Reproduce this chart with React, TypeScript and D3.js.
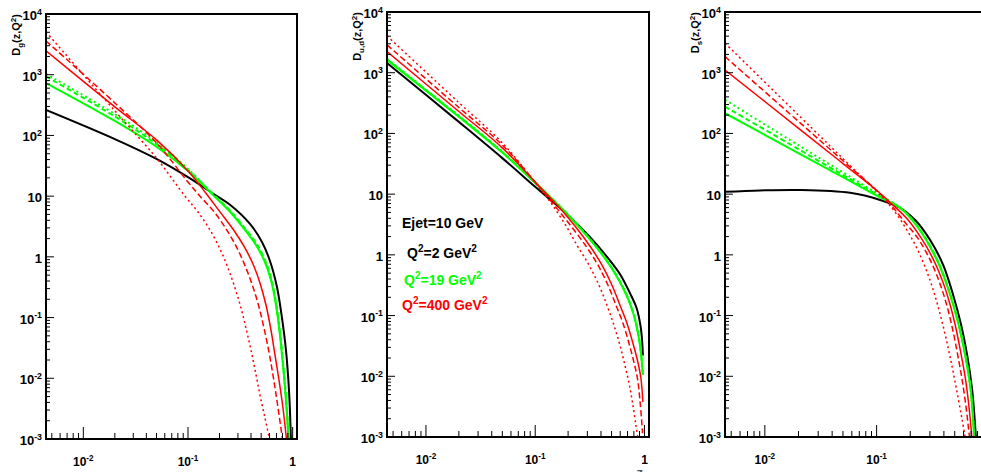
import React from "react";
import * as d3 from "d3";

type Pt = [number, number];

// gluon panel: [z, D(z,Q^2)]
const g1Black: Pt[] = [[0.0044, 263], [0.02, 87], [0.05, 41], [0.1, 20.5], [0.189, 10], [0.252, 7.2], [0.391, 3.48], [0.509, 1.76], [0.607, 0.855], [0.708, 0.319], [0.791, 0.098], [0.863, 0.029], [0.922, 0.0064], [0.963, 0.001]];
const g1Green: Pt[] = [[0.0044, 730], [0.02, 173], [0.05, 65], [0.1, 26], [0.173, 10.5], [0.252, 5.5], [0.35, 2.77], [0.446, 1.57], [0.532, 0.889], [0.62, 0.416], [0.693, 0.161], [0.756, 0.0516], [0.808, 0.0166], [0.863, 0.00439], [0.912, 0.001]];
const g1GreenDash: Pt[] = [[0.0044, 935], [0.02, 205], [0.05, 72], [0.1, 27], [0.173, 10.8], [0.252, 5.8], [0.35, 2.95], [0.446, 1.7], [0.532, 0.97], [0.62, 0.46], [0.693, 0.18], [0.756, 0.058], [0.808, 0.0186], [0.863, 0.0049], [0.915, 0.001]];
const g1GreenDot: Pt[] = [[0.0044, 1030], [0.02, 225], [0.05, 77], [0.1, 28], [0.173, 10.7], [0.252, 5.65], [0.35, 2.85], [0.446, 1.63], [0.532, 0.93], [0.62, 0.435], [0.693, 0.17], [0.756, 0.054], [0.808, 0.0175], [0.863, 0.0046], [0.913, 0.001]];
const g1Red: Pt[] = [[0.0044, 2470], [0.02, 295], [0.05, 84.3], [0.1, 26], [0.1453, 11.7], [0.2021, 5.5], [0.2811, 2.57], [0.35, 1.4], [0.4176, 0.764], [0.4872, 0.372], [0.5559, 0.161], [0.6205, 0.0624], [0.6776, 0.0242], [0.7398, 0.00938], [0.808, 0.00324], [0.8725, 0.001]];
const g1RedDash: Pt[] = [[0.0044, 3600], [0.02, 343], [0.05, 75.3], [0.1, 17.1], [0.1302, 10], [0.1811, 5.29], [0.241, 2.57], [0.3003, 1.3], [0.358, 0.657], [0.4176, 0.319], [0.4766, 0.1495], [0.532, 0.0674], [0.5937, 0.0271], [0.6555, 0.0101], [0.7157, 0.00377], [0.799, 0.001]];
const g1RedDot: Pt[] = [[0.0044, 5070], [0.02, 254], [0.05, 42.4], [0.0936, 10], [0.1246, 5.49], [0.1622, 2.77], [0.2021, 1.35], [0.241, 0.657], [0.2811, 0.307], [0.3208, 0.144], [0.358, 0.0674], [0.3996, 0.0292], [0.4413, 0.0127], [0.4872, 0.0053], [0.5438, 0.00222], [0.6004, 0.001]];

// u,d panel
const u2Black: Pt[] = [[0.0044, 1449], [0.02, 155], [0.05, 39.2], [0.1, 13.2], [0.1253, 9.34], [0.2077, 4.21], [0.3166, 1.97], [0.4625, 0.889], [0.5956, 0.484], [0.735, 0.236], [0.8467, 0.1334], [0.917, 0.07], [0.95, 0.04], [0.967, 0.022]];
const u2Green: Pt[] = [[0.0044, 1626], [0.02, 188], [0.05, 48.4], [0.1, 15.3], [0.1253, 10.5], [0.1991, 4.54], [0.2972, 2.05], [0.425, 0.923], [0.5473, 0.4665], [0.6758, 0.227], [0.783, 0.1146], [0.861, 0.0579], [0.917, 0.0293], [0.967, 0.0105]];
const u2GreenDash: Pt[] = [[0.0044, 1650], [0.02, 192], [0.05, 49.3], [0.1, 15.5], [0.1253, 10.6], [0.1991, 4.62], [0.2972, 2.1], [0.425, 0.95], [0.5473, 0.48], [0.6758, 0.234], [0.783, 0.118], [0.861, 0.0598], [0.917, 0.0302], [0.967, 0.011]];
const u2GreenDot: Pt[] = [[0.0044, 1700], [0.02, 195], [0.05, 49.8], [0.1, 15.5], [0.1253, 10.5], [0.1991, 4.58], [0.2972, 2.07], [0.425, 0.935], [0.5473, 0.472], [0.6758, 0.23], [0.783, 0.116], [0.861, 0.0588], [0.917, 0.0297], [0.967, 0.0107]];
const u2Red: Pt[] = [[0.0044, 2226], [0.02, 229.5], [0.05, 57.9], [0.1104, 13.1], [0.1616, 6.39], [0.2312, 2.99], [0.3166, 1.4], [0.4076, 0.682], [0.503, 0.319], [0.5956, 0.1495], [0.69, 0.0755], [0.783, 0.0354], [0.861, 0.01856], [0.927, 0.00937], [0.967, 0.00377]];
const u2RedDash: Pt[] = [[0.0044, 2871], [0.02, 267], [0.05, 64.4], [0.1127, 12.18], [0.1514, 6.39], [0.2121, 2.99], [0.2909, 1.4], [0.3748, 0.682], [0.4625, 0.319], [0.5473, 0.1495], [0.6345, 0.0755], [0.72, 0.0354], [0.7914, 0.01856], [0.861, 0.00937], [0.917, 0.00337], [0.9607, 0.00116]];
const u2RedDot: Pt[] = [[0.0044, 4036], [0.02, 322], [0.05, 69.8], [0.1059, 13.65], [0.1392, 7.16], [0.187, 3.23], [0.2406, 1.455], [0.31, 0.682], [0.3827, 0.319], [0.4529, 0.1495], [0.5248, 0.07], [0.5956, 0.0328], [0.6615, 0.01535], [0.7274, 0.00718], [0.783, 0.00337], [0.834, 0.00158], [0.865, 0.001]];

// s panel
const s3Black: Pt[] = [[0.0044, 10.9], [0.00906, 11.5], [0.02066, 11.7], [0.0579, 10.5], [0.1075, 8.03], [0.1623, 5.93], [0.2212, 3.76], [0.3013, 1.76], [0.3938, 0.682], [0.484, 0.2185], [0.5709, 0.07], [0.6457, 0.0224], [0.7161, 0.00595], [0.773, 0.001]];
const s3Green: Pt[] = [[0.0044, 215], [0.0207, 45.8], [0.05, 19], [0.1, 9.48], [0.1623, 5.93], [0.2078, 3.76], [0.2774, 1.76], [0.3627, 0.682], [0.455, 0.2185], [0.542, 0.07], [0.6198, 0.0224], [0.694, 0.00595], [0.7462, 0.001]];
const s3GreenDash: Pt[] = [[0.0044, 277], [0.0207, 53.1], [0.05, 20.7], [0.1, 9.93], [0.1623, 6.0], [0.2078, 3.85], [0.2774, 1.82], [0.3627, 0.71], [0.455, 0.228], [0.542, 0.0735], [0.6198, 0.0235], [0.694, 0.0063], [0.748, 0.001]];
const s3GreenDot: Pt[] = [[0.0044, 357], [0.0207, 61.5], [0.05, 22.8], [0.1, 10.35], [0.1623, 6.0], [0.2078, 3.8], [0.2774, 1.79], [0.3627, 0.695], [0.455, 0.223], [0.542, 0.0715], [0.6198, 0.0229], [0.694, 0.0061], [0.747, 0.001]];
const s3Red: Pt[] = [[0.0044, 1110], [0.0207, 115.9], [0.05, 31.9], [0.1, 11.6], [0.1399, 6.64], [0.1914, 3.76], [0.2502, 1.9], [0.3172, 0.889], [0.3858, 0.386], [0.4502, 0.1613], [0.5098, 0.0649], [0.5649, 0.0251], [0.6198, 0.00974], [0.6664, 0.0035], [0.7116, 0.001]];
const s3RedDash: Pt[] = [[0.0044, 1841], [0.0207, 149], [0.05, 35.5], [0.1, 11.5], [0.1343, 6.64], [0.172, 3.76], [0.2328, 1.9], [0.2951, 0.889], [0.359, 0.386], [0.4188, 0.1613], [0.4741, 0.0649], [0.5256, 0.0251], [0.5767, 0.00974], [0.6262, 0.0035], [0.6773, 0.001]];
const s3RedDot: Pt[] = [[0.0044, 3062], [0.0207, 188.4], [0.05, 38.5], [0.1, 11.04], [0.1191, 8.03], [0.1526, 4.54], [0.1934, 2.3], [0.2401, 1.075], [0.2891, 0.4667], [0.3374, 0.195], [0.3858, 0.0784], [0.4367, 0.0293], [0.484, 0.01178], [0.5365, 0.00439], [0.5826, 0.00191], [0.6198, 0.001]];

const zDomain: Pt = [0.0044, 1.1];
const vDomain: Pt = [1e-3, 1e4];
const yLabelValues = [1e4, 1e3, 1e2, 10, 1, 0.1, 0.01, 0.001];
const xLabelValues = [0.01, 0.1, 1];
const titleSubs = ["g", "u,d", "s"];
const legendLines = [
  ["Ejet=10 GeV"],
  ["Q", "^2", "=2 GeV", "^2"],
  ["Q", "^2", "=19 GeV", "^2"],
  ["Q", "^2", "=400 GeV", "^2"],
];

const panelData = [
  [g1Black, g1Green, g1GreenDash, g1GreenDot, g1Red, g1RedDash, g1RedDot],
  [u2Black, u2Green, u2GreenDash, u2GreenDot, u2Red, u2RedDash, u2RedDot],
  [s3Black, s3Green, s3GreenDash, s3GreenDot, s3Red, s3RedDash, s3RedDot],
];

// layout / styles
const W = 981;
const H = 472;
const FONT = "'Liberation Sans', Arial, Helvetica, sans-serif";
const frames = [
  { left: 46, right: 297, top: 14, bottom: 439 },
  { left: 387, right: 649, top: 12, bottom: 437 },
  { left: 725, right: 993, top: 12, bottom: 437 },
];
const lineStyles = [
  { color: "#000000", width: 2, dash: undefined },
  { color: "#00ff00", width: 2, dash: undefined },
  { color: "#00ff00", width: 2, dash: "5,3" },
  { color: "#00ff00", width: 2, dash: "2,3" },
  { color: "#ff0000", width: 1.5, dash: undefined },
  { color: "#ff0000", width: 1.5, dash: "6,3" },
  { color: "#ff0000", width: 1.5, dash: "2,3" },
];
const legendStyle = [
  { x: 402, y: 228, color: "#000000" },
  { x: 407, y: 258, color: "#000000" },
  { x: 404, y: 285, color: "#00ff00" },
  { x: 402, y: 310, color: "#ff0000" },
];

const isDecade = (t: number) => Math.abs(Math.log10(t) - Math.round(Math.log10(t))) < 1e-9;

function PowText(props: { x: number; y: number; v: number; anchor: string; size: number }) {
  const { x, y, v, anchor, size } = props;
  const e = Math.round(Math.log10(v));
  const base = e === 0 ? "1" : "10";
  return (
    <text x={x} y={y} textAnchor={anchor} fontSize={size} fontWeight="bold" fontFamily={FONT}>
      {base}
      {e !== 0 && e !== 1 ? (
        <tspan dy={-size * 0.42} fontSize={size * 0.68}>{e < 0 ? "-" + Math.abs(e) : String(e)}</tspan>
      ) : null}
    </text>
  );
}

function Panel(props: { idx: number }) {
  const { idx } = props;
  const f = frames[idx];
  const x = d3.scaleLog().domain(zDomain).range([f.left, f.right]);
  const y = d3.scaleLog().domain(vDomain).range([f.bottom, f.top]);
  const line = d3
    .line<Pt>()
    .x((d) => x(d[0]))
    .y((d) => y(d[1]))
    .curve(d3.curveCatmullRom.alpha(0.5));

  const yTicks = y.ticks();
  const xTicks = x.ticks();
  const clipId = "clip" + idx;

  return (
    <g>
      <defs>
        <clipPath id={clipId}>
          <rect x={f.left} y={f.top} width={f.right - f.left} height={f.bottom - f.top} />
        </clipPath>
      </defs>

      <g clipPath={`url(#${clipId})`}>
        {panelData[idx].map((data, i) => (
          <path
            key={i}
            d={line(data) || ""}
            fill="none"
            stroke={lineStyles[i].color}
            strokeWidth={lineStyles[i].width}
            strokeDasharray={lineStyles[i].dash}
          />
        ))}
      </g>

      {/* y ticks */}
      {yTicks.map((t, i) => (
        <line key={"yt" + i} x1={f.left} x2={f.left + (isDecade(t) ? 8 : 4)} y1={y(t)} y2={y(t)} stroke="#000" strokeWidth={1} />
      ))}
      {/* x ticks */}
      {xTicks.map((t, i) => (
        <line key={"xt" + i} x1={x(t)} x2={x(t)} y1={f.bottom} y2={f.bottom - (isDecade(t) ? 12 : 6)} stroke="#000" strokeWidth={1} />
      ))}

      <rect x={f.left} y={f.top} width={f.right - f.left} height={f.bottom - f.top} fill="none" stroke="#000" strokeWidth={2} />

      {yLabelValues.map((v, i) => (
        <PowText key={"yl" + i} x={f.left - 4} y={y(v) + 6} v={v} anchor="end" size={13} />
      ))}
      {xLabelValues
        .filter((v) => x(v) < W - 8)
        .map((v, i) => (
          <PowText key={"xl" + i} x={x(v)} y={f.bottom + 27} v={v} anchor="middle" size={12} />
        ))}

      {f.right < W ? (
        <text x={f.right - 6} y={f.bottom + 40} textAnchor="end" fontSize={13} fontWeight="bold" fontFamily={FONT} fill="#555">
          z
        </text>
      ) : null}

      <text
        transform={`translate(${f.left - 26},${f.top}) rotate(-90)`}
        textAnchor="end"
        fontSize={11}
        fontWeight="bold"
        fontFamily={FONT}
      >
        D<tspan dy={3} fontSize={8}>{titleSubs[idx]}</tspan>
        <tspan dy={-3}>(z,Q</tspan>
        <tspan dy={-4} fontSize={8}>2</tspan>
        <tspan dy={4}>)</tspan>
      </text>
    </g>
  );
}

export default function App() {
  return (
    <svg width={W} height={H} style={{ position: "absolute", left: 0, top: 0, background: "#fff" }}>
      <rect x={0} y={0} width={W} height={H} fill="#fff" />
      {frames.map((_, i) => (
        <Panel key={i} idx={i} />
      ))}
      {legendLines.map((parts, i) => (
        <text key={i} x={legendStyle[i].x} y={legendStyle[i].y} fontSize={14} fontWeight="bold" fontFamily={FONT} fill={legendStyle[i].color}>
          {parts.map((p, j) =>
            p.startsWith("^") ? (
              <tspan key={j} dy={-6} fontSize={10}>{p.slice(1)}</tspan>
            ) : (
              <tspan key={j} dy={j > 0 && parts[j - 1].startsWith("^") ? 6 : 0}>{p}</tspan>
            )
          )}
        </text>
      ))}
    </svg>
  );
}
